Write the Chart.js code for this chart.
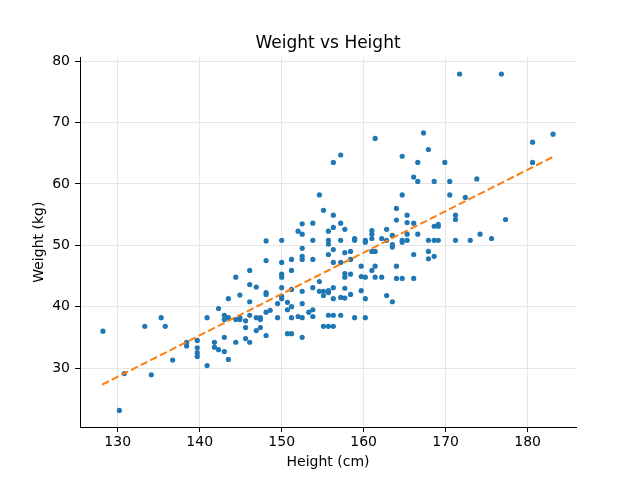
<!DOCTYPE html>
<html>
<head>
<meta charset="utf-8">
<title>Weight vs Height</title>
<script src="https://cdn.jsdelivr.net/npm/chart.js@4.4.0/dist/chart.umd.min.js"></script>
<style>
  html, body { margin: 0; padding: 0; background: #fff; }
  #wrap { width: 640px; height: 480px; }
</style>
</head>
<body>
<div id="wrap"><canvas id="scatter-chart" width="640" height="480"></canvas></div>
<script>
'use strict';

// ── Data ──────────────────────────────────────
const heights = [
  128.2, 130.2, 130.8, 133.3, 134.1, 135.3, 135.8, 136.7, 138.4, 138.4,
  139.7, 139.7, 139.7, 139.7, 140.9, 140.9, 141.8, 141.8, 142.3, 142.3,
  143.0, 143.0, 143.0, 143.0, 143.5, 143.5, 143.5, 144.4, 144.4, 144.4,
  144.9, 144.9, 144.9, 145.6, 145.6, 145.6, 146.1, 146.1, 146.1, 146.1,
  146.1, 146.9, 146.9, 146.9, 147.4, 147.4, 147.4, 148.1, 148.1, 148.1,
  148.1, 148.1, 148.1, 148.6, 149.5, 149.5, 150.0, 150.0, 150.0, 150.0,
  150.0, 150.0, 150.0, 150.7, 150.7, 150.7, 151.2, 151.2, 151.2, 151.2,
  151.2, 151.2, 152.0, 152.0, 152.5, 152.5, 152.5, 152.5, 152.5, 152.5,
  152.5, 152.5, 152.5, 153.3, 153.8, 153.8, 153.8, 153.8, 153.8, 153.8,
  154.6, 154.6, 154.6, 155.1, 155.1, 155.1, 155.1, 155.7, 155.7, 155.7,
  155.7, 155.7, 155.7, 155.7, 155.7, 156.3, 156.3, 156.3, 156.3, 156.3,
  156.3, 156.3, 156.3, 156.3, 157.2, 157.2, 157.2, 157.2, 157.2, 157.2,
  157.7, 157.7, 157.7, 157.7, 157.7, 157.7, 158.4, 158.4, 158.4, 158.4,
  158.9, 158.9, 158.9, 159.7, 159.7, 159.7, 160.2, 160.2, 160.2, 160.2,
  160.2, 161.0, 161.0, 161.0, 161.0, 161.0, 161.4, 161.4, 161.4, 161.4,
  162.2, 162.2, 162.8, 162.8, 162.8, 163.5, 163.5, 163.5, 163.5, 164.0,
  164.0, 164.0, 164.0, 164.7, 164.7, 164.7, 164.7, 164.7, 165.3, 165.3,
  165.3, 165.3, 166.1, 166.1, 166.1, 166.1, 166.6, 166.6, 166.6, 167.3,
  167.9, 167.9, 167.9, 167.9, 168.6, 168.6, 168.6, 168.6, 169.1, 169.1,
  169.1, 169.9, 170.5, 170.5, 171.2, 171.2, 171.2, 171.7, 172.4, 173.0,
  173.8, 174.2, 175.6, 176.8, 177.3, 180.6, 180.6, 183.1,
];
const weights = [
  36.0, 23.1, 29.1, 36.8, 28.9, 38.2, 36.8, 31.3, 34.2, 33.6,
  34.5, 33.3, 32.5, 31.9, 38.2, 30.4, 34.2, 33.4, 39.7, 33.0,
  38.6, 37.9, 35.0, 32.7, 41.3, 38.2, 31.4, 44.8, 37.9, 34.2,
  41.9, 38.2, 37.9, 37.7, 36.6, 34.8, 45.9, 43.6, 40.8, 38.6,
  34.2, 43.2, 38.2, 36.1, 38.2, 37.9, 36.6, 50.7, 47.5, 42.3,
  42.0, 39.1, 35.3, 39.4, 40.5, 38.2, 50.8, 47.2, 45.3, 44.8,
  43.1, 41.7, 41.3, 40.7, 39.5, 35.6, 47.7, 45.9, 42.8, 40.0,
  38.2, 35.6, 52.3, 38.4, 53.5, 51.8, 49.5, 48.2, 47.7, 42.5,
  40.5, 38.2, 35.0, 39.1, 53.6, 50.8, 47.7, 43.1, 39.5, 38.4,
  58.2, 44.1, 42.5, 55.7, 42.5, 41.8, 36.8, 52.3, 50.8, 50.2,
  48.5, 42.6, 42.3, 38.6, 36.8, 63.5, 54.9, 52.9, 49.3, 47.2,
  43.1, 41.3, 38.6, 36.8, 64.7, 53.6, 50.8, 47.2, 41.5, 38.6,
  52.6, 48.8, 45.4, 44.8, 43.0, 41.4, 49.0, 47.7, 45.3, 42.0,
  51.1, 50.8, 38.2, 46.6, 44.9, 42.6, 50.8, 50.5, 44.8, 41.3,
  38.2, 52.4, 51.8, 51.1, 49.0, 45.9, 67.4, 49.0, 46.6, 44.8,
  51.1, 44.8, 52.6, 50.8, 41.8, 51.6, 50.1, 49.7, 40.8, 56.0,
  54.1, 46.6, 44.6, 64.5, 58.2, 50.8, 50.5, 44.6, 54.9, 53.7,
  51.8, 50.8, 61.1, 53.6, 48.5, 44.6, 63.5, 60.4, 51.8, 68.3,
  65.6, 50.8, 49.0, 47.8, 60.4, 53.1, 50.8, 48.2, 53.4, 53.1,
  50.8, 63.5, 60.4, 58.2, 54.9, 54.2, 50.8, 77.9, 57.8, 50.8,
  60.8, 51.8, 51.1, 77.9, 54.2, 66.8, 63.5, 68.1,
];

// fitted trend line, two ends
const fitHeights = [128.1, 183.1];
const fitWeights = [27.3, 64.4];

const xTicks = [130, 140, 150, 160, 170, 180];
const yTicks = [30, 40, 50, 60, 70, 80];

// ── Theme ─────────────────────────────────────
const C = {
  dots: '#1f77b4',
  fit:  '#ff7f0e',
  grid: '#e6e6e6',
  ink:  '#000000',
};

Chart.defaults.font.family = "'DejaVu Sans', sans-serif";
Chart.defaults.color = C.ink;

const points = heights.map((h, i) => ({ x: h, y: weights[i] }));
const fitLine = fitHeights.map((h, i) => ({ x: h, y: fitWeights[i] }));

const axisFont = { size: 14 };

new Chart(document.getElementById('scatter-chart').getContext('2d'), {
  type: 'scatter',
  data: {
    datasets: [
      {
        label: 'Fit',
        data: fitLine,
        showLine: true,
        borderColor: C.fit,
        borderWidth: 2,
        borderDash: [7.5, 3.3],
        pointRadius: 0,
        fill: false,
        order: 0,
      },
      {
        label: 'Samples',
        data: points,
        backgroundColor: C.dots,
        borderWidth: 0,
        pointRadius: 2.6,
        order: 1,
      },
    ],
  },
  options: {
    responsive: false,
    animation: false,
    layout: { padding: { top: 0, right: 64, bottom: 0, left: 0 } },
    plugins: {
      legend: { display: false },
      tooltip: { enabled: false },
      title: {
        display: true,
        fullSize: false, // centre over the plot area, not the canvas
        text: 'Weight vs Height',
        color: C.ink,
        font: { size: 17, weight: 'normal' },
        padding: { top: 33.5, bottom: 3.5 },
      },
    },
    scales: {
      x: {
        type: 'linear',
        min: 125.4,
        max: 185.9,
        afterBuildTicks: s => { s.ticks = xTicks.map(v => ({ value: v })); },
        afterFit: s => { s.height = 53; },
        grid: { color: C.grid, tickColor: C.ink, tickLength: 5 },
        border: { display: true, color: C.ink, width: 1 },
        ticks: { color: C.ink, font: axisFont, padding: 2, maxRotation: 0 },
        title: { display: true, text: 'Height (cm)', color: C.ink, font: axisFont, padding: { top: 0, bottom: 9.5 } },
      },
      y: {
        type: 'linear',
        min: 20.4,
        max: 80.6,
        afterBuildTicks: s => { s.ticks = yTicks.map(v => ({ value: v })); },
        afterFit: s => { s.width = 80; },
        grid: { color: C.grid, tickColor: C.ink, tickLength: 5 },
        border: { display: true, color: C.ink, width: 1 },
        ticks: { color: C.ink, font: axisFont, padding: 5 },
        title: { display: true, text: 'Weight (kg)', color: C.ink, font: axisFont, padding: { top: 30.5, bottom: 0 } },
      },
    },
  },
});
</script>
</body>
</html>
